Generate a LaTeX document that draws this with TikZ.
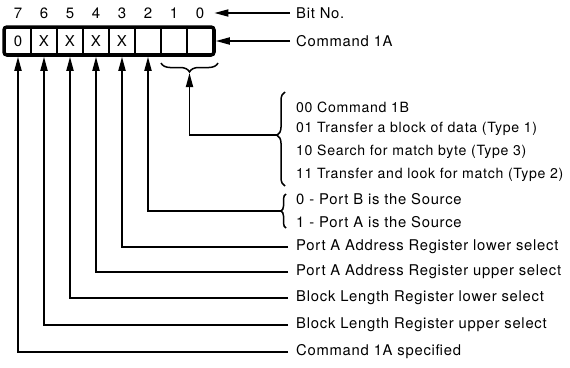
\documentclass[tikz,border=0pt]{standalone}
\usepackage{fontspec}
\setmainfont[LetterSpace=5]{TeX Gyre Heros}
\usetikzlibrary{arrows.meta, positioning, decorations.pathreplacing}

\tikzset{
  cell/.style={draw, line width=1.4pt, minimum width=26pt, minimum height=25pt, inner sep=0pt, font=\fontsize{15}{17}\selectfont},
  bitnum/.style={inner sep=0pt, font=\fontsize{15}{17}\selectfont},
  lbl/.style={anchor=west, inner sep=0pt, font=\fontsize{14.8}{17}\selectfont},
  mode/.style={lbl, font=\fontsize{14.1}{16}\selectfont},
  lead/.style={line width=1.7pt, -{Triangle[length=14pt,width=7pt]}},
  curly/.style={decorate, decoration={brace, amplitude=#1}, line width=1.5pt},
}

\begin{document}
\begin{tikzpicture}[x=1pt, y=-1pt]
    \useasboundingbox (0,0) rectangle (570,367);

    % the register and its bit numbers
    \node[draw, line width=3.5pt, rounded corners=3pt, minimum width=210pt, minimum height=28pt] (reg) at (109,41) {};
    \foreach \b/\v in {7/0,6/X,5/X,4/X,3/X,2/,1/,0/} {
        \node[cell] (c\b) at ({18+26*(7-\b)},41) {\v};
        \node[bitnum] (n\b) at ({18+26*(7-\b)},13) {\b};
        \coordinate (p\b) at (c\b.south |- reg.south);
    }

    % pointers at the top
    \node[lbl] (bitno) at (296,13) {Bit No.};
    \node[lbl] (cmd) at (296,41) {Command 1A};
    \draw[lead] ([xshift=-6pt]bitno.west) -- ([xshift=10pt]n0.east);
    \draw[lead] ([xshift=-6pt]cmd.west) -- (reg.east);

    % bits 1-0
    \node[mode] (m0) at (296,107) {00 Command 1B};
    \node[mode] (m1) at (296,129) {01 Transfer a block of data (Type 1)};
    \node[mode] (m2) at (296,152) {10 Search for match byte (Type 3)};
    \node[mode] (m3) at (296,175) {11 Transfer and look for match (Type 2)};
    \draw[curly=8pt, decoration={aspect=0.54}] (285,186) -- (285,92);
    \draw[curly=9pt] (218,63) -- (161,63);
    \coordinate (k10) at (277,135);
    \coordinate (u10) at (189.5,73);
    \draw[lead] (k10) -| (u10);

    % bit 2
    \node[lbl] (s0) at (296,199) {0 - Port B is the Source};
    \node[lbl] (s1) at (296,222) {1 - Port A is the Source};
    \draw[curly=5pt] (286,228) -- (286,194);
    \coordinate (k2) at (281,211);
    \draw[lead] (k2) -| (p2);

    % bits 3-7
    \node[lbl] (l3) at (296,247) {Port A Address Register lower select};
    \node[lbl] (l4) at (296,272) {Port A Address Register upper select};
    \node[lbl] (l5) at (296,298) {Block Length Register lower select};
    \node[lbl] (l6) at (296,325) {Block Length Register upper select};
    \node[lbl] (l7) at (296,352) {Command 1A specified};
    \foreach \b in {3,...,7}
        \draw[lead] ([xshift=-8pt]l\b.west) -| (p\b);
\end{tikzpicture}
\end{document}
